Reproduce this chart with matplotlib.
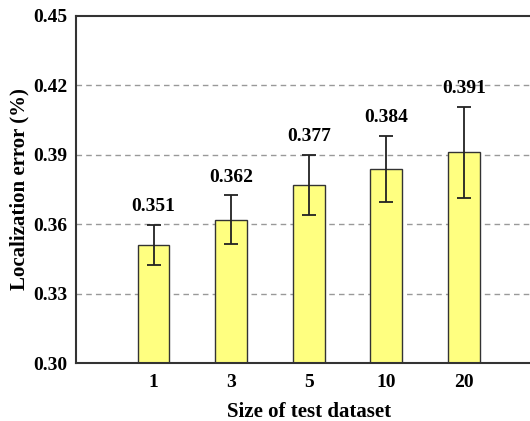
import matplotlib
matplotlib.use("Agg")
import matplotlib.pyplot as plt
import numpy as np

categories = ["1", "3", "5", "10", "20"]
values = [0.351, 0.362, 0.377, 0.384, 0.391]
errors = [0.0087, 0.0105, 0.013, 0.0143, 0.0196]
yticks = [0.30, 0.33, 0.36, 0.39, 0.42, 0.45]

plt.rcParams['font.family'] = ['Liberation Serif', 'DejaVu Serif']
plt.rcParams['font.weight'] = 'bold'

fig = plt.figure(figsize=(5.30, 4.21), dpi=100)
ax = fig.add_axes([76/530, 1 - 363/421, (541.5 - 76)/530, (363 - 16)/421])

x = np.arange(1, len(categories) + 1)
ax.set_axisbelow(True)
for yv in yticks[1:-1]:
    ax.axhline(yv, color='#999999', linestyle=(0, (4, 3)), linewidth=1.0, zorder=0)

ax.bar(x, values, width=0.41, color='#FFFF80', edgecolor='#333333', linewidth=1.0,
       yerr=errors, error_kw=dict(ecolor='#222222', elinewidth=1.3, capsize=5, capthick=1.3),
       zorder=2)

for xi, v, e in zip(x, values, errors):
    ax.annotate(f"{v:.3f}", (xi, v + e), xytext=(0, 7), textcoords='offset points',
                ha='center', va='bottom', fontsize=14, fontweight='bold')

ax.set_xlim(0, 6)
ax.set_ylim(0.30, 0.45)
ax.set_xticks(x)
ax.set_xticklabels(categories)
ax.set_yticks(yticks)
ax.set_yticklabels([f"{t:.2f}" for t in yticks])
ax.tick_params(axis='both', length=0, labelsize=14)
ax.tick_params(axis='y', pad=6)
ax.tick_params(axis='x', pad=8)
for lab in ax.get_xticklabels() + ax.get_yticklabels():
    lab.set_fontweight('bold')

ax.set_xlabel("Size of test dataset", fontsize=15, fontweight='bold')
ax.set_ylabel("Localization error (%)", fontsize=15, fontweight='bold')
ax.yaxis.set_label_coords(-0.100, 0.5)
ax.xaxis.set_label_coords(0.5, -0.112)

for s in ['left', 'top', 'bottom']:
    ax.spines[s].set_color('#333333')
    ax.spines[s].set_linewidth(1.5)
ax.spines['right'].set_visible(False)

fig.savefig("out.png", dpi=100)
